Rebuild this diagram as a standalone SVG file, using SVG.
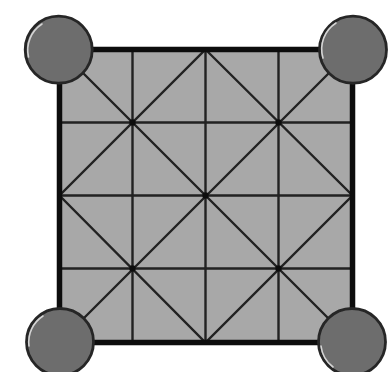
<svg xmlns="http://www.w3.org/2000/svg" width="389" height="372" viewBox="0 0 389 372">
<defs>
<filter id="soft" x="-5%" y="-5%" width="110%" height="110%"><feGaussianBlur stdDeviation="0.55"/></filter>
</defs>
<style>
.thin{stroke:#222;stroke-width:2.4;fill:none;stroke-linecap:round}
.ball{fill:#6d6d6d;stroke:#262626;stroke-width:2.8}
.shine{fill:none;stroke:#d4d4d4;stroke-width:1.6;stroke-linecap:round}
</style>
<rect width="389" height="372" fill="#fff"/>
<g filter="url(#soft)">
<g id="board">
<rect x="59.5" y="49.5" width="293" height="293" fill="#a8a8a8"/>
</g>
<g id="connectors">
<path class="thin" d="M132.5 49.5V342.5M205.5 49.5V342.5M278.5 49.5V342.5M59.5 122.5H352.5M59.5 195.5H352.5M59.5 268.5H352.5"/>
<path class="thin" d="M59.5 49.5L352.5 342.5M352.5 49.5L59.5 342.5M205.5 49.5L352.5 195.5L205.5 342.5L59.5 195.5Z"/>
<circle cx="132.5" cy="122.5" r="3.2" fill="#111"/>
<circle cx="278.5" cy="122.5" r="3.2" fill="#111"/>
<circle cx="205.5" cy="195.5" r="3.2" fill="#111"/>
<circle cx="132.5" cy="268.5" r="3.2" fill="#111"/>
<circle cx="278.5" cy="268.5" r="3.2" fill="#111"/>
<rect x="59.5" y="49.5" width="293" height="293" fill="none" stroke="#111" stroke-width="5.5"/>
</g>
<g id="node-tl">
<circle class="ball" cx="58.7" cy="49.7" r="33.5"/>
<path class="shine" d="M28.5 57A31 31 0 0 1 42 24"/>
</g>
<g id="node-tr">
<circle class="ball" cx="353" cy="49.7" r="33.5"/>
<path class="shine" d="M323 58A31 31 0 0 1 336 23"/>
</g>
<g id="node-bl">
<circle class="ball" cx="60" cy="342" r="33.5"/>
<path class="shine" d="M29 346A31 31 0 0 1 43 316"/>
</g>
<g id="node-br">
<circle class="ball" cx="352" cy="342" r="33.5"/>
<path class="shine" d="M321 346A31 31 0 0 0 333 367"/>
</g>
</g>
</svg>
